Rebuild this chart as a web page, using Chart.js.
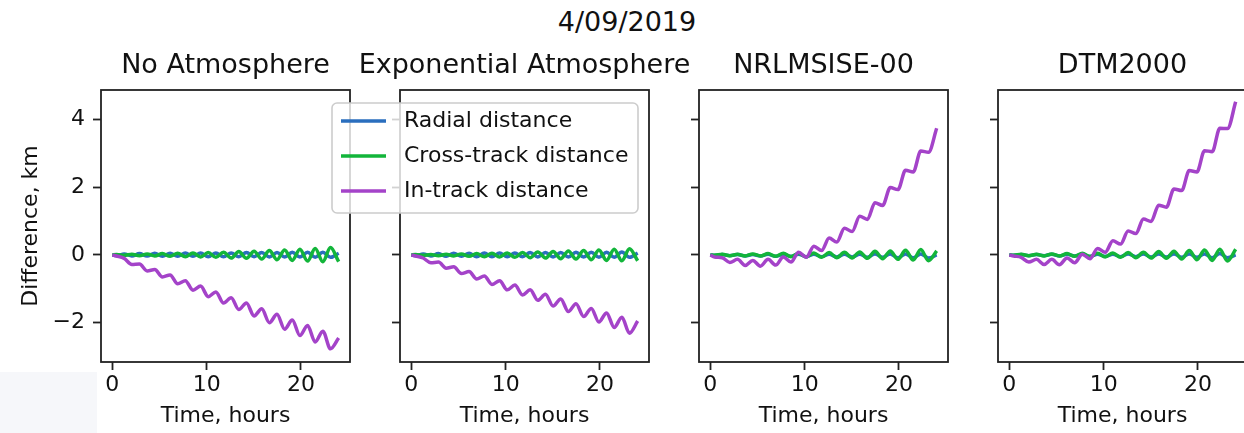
<!DOCTYPE html>
<html>
<head>
<meta charset="utf-8">
<script src="https://cdn.jsdelivr.net/npm/chart.js@4.4.0/dist/chart.umd.min.js"></script>
<style>
html, body { margin: 0; padding: 0; background: #fff; overflow: hidden; }
#wrap { position: relative; width: 1244px; height: 433px; overflow: hidden; }
#wrap canvas { position: absolute; left: 0; top: 0; }
#suptitle { position: absolute; left: 0; width: 1254px; top: 6px; line-height: 32px; text-align: center;
            font-family: "DejaVu Sans"; font-size: 27px; color: #111; }
#corner { position: absolute; left: 0; top: 372px; width: 97px; height: 61px; background: #f6f7fa; }
</style>
</head>
<body>
<div id="wrap">
  <div id="corner"></div>
  <div id="suptitle">4/09/2019</div>
  <canvas id="panel0" width="1250" height="433"></canvas>
  <canvas id="panel1" width="1250" height="433"></canvas>
  <canvas id="panel2" width="1250" height="433"></canvas>
  <canvas id="panel3" width="1250" height="433"></canvas>
</div>
<script>
// time axis, hours
const hours = [0, 0.45, 1.26, 2.07, 2.88, 3.69, 4.5, 5.31, 6.12, 6.93, 7.74, 8.55, 9.36, 10.17, 10.98, 11.79,
               12.6, 13.41, 14.22, 15.03, 15.84, 16.65, 17.46, 18.27, 19.08, 19.89, 20.7, 21.51, 22.32, 23.13, 24];

const panelTitles = ['No Atmosphere', 'Exponential Atmosphere', 'NRLMSISE-00', 'DTM2000'];
const seriesNames = ['Radial distance', 'Cross-track distance', 'In-track distance'];
const xTicks = [0, 10, 20];
const yTicks = [-2, 0, 2, 4];

// No Atmosphere
const radialNoAtm = [0, -0.02, 0.03, -0.03, 0.04, -0.03, 0.05, -0.04, 0.05, -0.04, 0.06, -0.04, 0.06, -0.05, 0.06, -0.05,
                     0.06, -0.05, 0.07, -0.05, 0.07, -0.06, 0.07, -0.06, 0.08, -0.06, 0.08, -0.07, 0.08, -0.07, 0.05];
const crossNoAtm = [0, 0.01, -0.01, 0.02, -0.02, 0.03, -0.03, 0.04, -0.04, 0.05, -0.05, 0.06, -0.06, 0.07, -0.07, 0.08,
                    -0.09, 0.10, -0.10, 0.11, -0.12, 0.13, -0.14, 0.15, -0.16, 0.17, -0.18, 0.19, -0.20, 0.22, -0.20];
const inTrackNoAtm = [0, -0.03, -0.10, -0.28, -0.27, -0.47, -0.43, -0.65, -0.59, -0.85, -0.76, -1.04, -0.92, -1.23, -1.09, -1.42,
                      -1.26, -1.61, -1.42, -1.80, -1.59, -2.00, -1.75, -2.19, -1.92, -2.38, -2.08, -2.57, -2.25, -2.77, -2.45];

// Exponential Atmosphere
const radialExp = [0, -0.02, 0.03, -0.03, 0.04, -0.04, 0.05, -0.04, 0.05, -0.05, 0.06, -0.05, 0.06, -0.05, 0.06, -0.05,
                   0.07, -0.06, 0.07, -0.06, 0.07, -0.06, 0.08, -0.06, 0.08, -0.07, 0.08, -0.07, 0.09, -0.07, 0.06];
const crossExp = [0, 0.01, -0.01, 0.01, -0.02, 0.02, -0.03, 0.03, -0.04, 0.04, -0.05, 0.05, -0.06, 0.06, -0.07, 0.07,
                  -0.08, 0.09, -0.09, 0.10, -0.11, 0.12, -0.12, 0.13, -0.14, 0.15, -0.16, 0.17, -0.17, 0.18, -0.17];
const inTrackExp = [0, -0.03, -0.09, -0.23, -0.21, -0.39, -0.35, -0.55, -0.49, -0.71, -0.62, -0.87, -0.76, -1.03, -0.89, -1.18,
                    -1.03, -1.34, -1.16, -1.51, -1.30, -1.67, -1.44, -1.82, -1.58, -1.98, -1.71, -2.14, -1.84, -2.31, -1.95];

// NRLMSISE-00
const radialMsis = [0, -0.01, 0.01, -0.02, 0.01, -0.03, 0.01, -0.03, 0.02, -0.04, 0.02, -0.04, 0.02, -0.05, 0.02, -0.05,
                    0.02, -0.06, 0.02, -0.06, 0.02, -0.07, 0.03, -0.07, 0.03, -0.08, 0.03, -0.08, 0.03, -0.09, 0.00];
const crossMsis = [0, -0.01, 0.02, -0.02, 0.02, -0.03, 0.03, -0.03, 0.04, -0.04, 0.05, -0.05, 0.05, -0.06, 0.06, -0.07,
                   0.07, -0.08, 0.08, -0.09, 0.09, -0.10, 0.11, -0.11, 0.12, -0.13, 0.14, -0.15, 0.16, -0.17, 0.12];
const inTrackMsis = [0, -0.06, -0.08, -0.22, -0.13, -0.31, -0.16, -0.33, -0.13, -0.30, -0.06, -0.21, 0.08, -0.07, 0.26, 0.13,
                     0.50, 0.38, 0.79, 0.69, 1.14, 1.05, 1.54, 1.46, 1.99, 1.93, 2.50, 2.45, 3.07, 3.03, 3.74];

// DTM2000
const radialDtm = [0, -0.01, 0.01, -0.02, 0.01, -0.02, 0.02, -0.03, 0.02, -0.03, 0.02, -0.04, 0.02, -0.04, 0.02, -0.05,
                   0.03, -0.05, 0.03, -0.06, 0.03, -0.06, 0.03, -0.07, 0.03, -0.07, 0.03, -0.08, 0.04, -0.08, 0.00];
const crossDtm = [0, -0.01, 0.02, -0.02, 0.02, -0.03, 0.03, -0.03, 0.04, -0.04, 0.05, -0.05, 0.05, -0.06, 0.06, -0.07,
                  0.07, -0.08, 0.08, -0.09, 0.10, -0.10, 0.11, -0.12, 0.13, -0.14, 0.15, -0.16, 0.17, -0.18, 0.17];
const inTrackDtm = [0, -0.03, -0.07, -0.21, -0.13, -0.28, -0.13, -0.29, -0.09, -0.23, 0.02, -0.11, 0.19, 0.08, 0.42, 0.32,
                    0.71, 0.63, 1.06, 0.99, 1.47, 1.41, 1.95, 1.90, 2.49, 2.45, 3.08, 3.05, 3.74, 3.73, 4.52];

const radialAll = [radialNoAtm, radialExp, radialMsis, radialDtm];
const crossAll = [crossNoAtm, crossExp, crossMsis, crossDtm];
const inTrackAll = [inTrackNoAtm, inTrackExp, inTrackMsis, inTrackDtm];

const lineColors = ['#2a6ebe', '#12b53a', '#a443c9'];

// layout of the four axes (px)
var FONT = 'DejaVu Sans';
var CANVAS_W = 1250;
var panelLeft = [101, 400, 699, 998];
var panelWidth = 249;

Chart.defaults.font.family = FONT;

function fmtTick(v) {
    return v < 0 ? '\u2212' + Math.abs(v) : String(v);
}

// legend drawn over panels 1/2 like matplotlib
function drawLegend(chart) {
    var ctx = chart.ctx;
    var x = 332, y = 103, w = 306, h = 110, r = 5;
    ctx.save();
    ctx.beginPath();
    ctx.moveTo(x + r, y);
    ctx.arcTo(x + w, y, x + w, y + h, r);
    ctx.arcTo(x + w, y + h, x, y + h, r);
    ctx.arcTo(x, y + h, x, y, r);
    ctx.arcTo(x, y, x + w, y, r);
    ctx.closePath();
    ctx.fillStyle = 'rgba(255,255,255,0.8)';
    ctx.fill();
    ctx.lineWidth = 1.6;
    ctx.strokeStyle = '#cccccc';
    ctx.stroke();
    // entries in draw order: radial, cross, in-track
    var items = chart.data.datasets.slice().sort(function(a, b) { return b.order - a.order; });
    items.forEach(function(ds, k) {
        var ry = 121 + k * 35;
        ctx.beginPath();
        ctx.moveTo(341, ry);
        ctx.lineTo(386, ry);
        ctx.lineWidth = 3.5;
        ctx.strokeStyle = ds.borderColor;
        ctx.stroke();
        ctx.fillStyle = '#111';
        ctx.font = '22px "' + FONT + '"';
        ctx.textBaseline = 'middle';
        ctx.textAlign = 'left';
        ctx.fillText(ds.label, 404, ry);
    });
    ctx.restore();
}

// box around each axes, axes title, legend
var framePlugin = {
    id: 'frame',
    afterDraw: function(chart) {
        var a = chart.chartArea;
        var ctx = chart.ctx;
        ctx.save();
        ctx.lineWidth = 1.8;
        ctx.strokeStyle = '#222';
        ctx.strokeRect(a.left, a.top, a.right - a.left, a.bottom - a.top);
        ctx.fillStyle = '#111';
        ctx.font = '27px "' + FONT + '"';
        ctx.textAlign = 'center';
        ctx.textBaseline = 'middle';
        ctx.fillText(chart.options.panelTitle, (a.left + a.right) / 2, 66);
        ctx.restore();
        if (chart.options.showLegend) drawLegend(chart);
    }
};

function toPoints(vals) {
    return hours.map(function(h, j) { return {x: h, y: vals[j]}; });
}

function makePanel(i) {
    var yw = i === 0 ? 101 : 8;
    var left = panelLeft[i];
    var cfg = {
        type: 'line',
        data: {
            datasets: [{
                label: seriesNames[0], data: toPoints(radialAll[i]), borderColor: lineColors[0], order: 3
            }, {
                label: seriesNames[1], data: toPoints(crossAll[i]), borderColor: lineColors[1], order: 2
            }, {
                label: seriesNames[2], data: toPoints(inTrackAll[i]), borderColor: lineColors[2], order: 1
            }]
        },
        options: {
            responsive: false,
            animation: false,
            showLegend: i === 1,
            panelTitle: panelTitles[i],
            layout: { padding: { left: left - yw, right: CANVAS_W - left - panelWidth, top: 90, bottom: 0 } },
            elements: {
                point: { radius: 0 },
                line: { borderWidth: 3.5, fill: false, cubicInterpolationMode: 'monotone' }
            },
            plugins: {
                legend: { display: false },
                tooltip: { enabled: false },
                title: { display: false }
            },
            scales: {
                x: {
                    type: 'linear',
                    min: -1.2,
                    max: 25.2,
                    afterBuildTicks: function(s) { s.ticks = xTicks.map(function(v) { return {value: v}; }); },
                    afterFit: function(s) { s.height = 71; },
                    border: { display: false },
                    grid: { drawOnChartArea: false, drawTicks: true, tickLength: 8, tickWidth: 1.8, tickColor: '#222' },
                    ticks: { padding: 2, color: '#111', font: { size: 22 }, maxRotation: 0, callback: fmtTick },
                    title: { display: true, text: 'Time, hours', color: '#111', font: { size: 22 }, padding: { top: 0, bottom: 4 } }
                },
                y: {
                    min: -3.16,
                    max: 4.87,
                    afterBuildTicks: function(s) { s.ticks = yTicks.map(function(v) { return {value: v}; }); },
                    afterFit: function(s) { s.width = yw; },
                    border: { display: false },
                    grid: { drawOnChartArea: false, drawTicks: true, tickLength: 8, tickWidth: 1.8, tickColor: '#222' },
                    ticks: { display: i === 0, padding: 8, color: '#111', font: { size: 22 }, callback: fmtTick },
                    title: { display: i === 0, text: 'Difference, km', color: '#111', font: { size: 22 }, padding: { top: 18.5, bottom: 0 } }
                }
            }
        },
        plugins: [framePlugin]
    };
    return new Chart(document.getElementById('panel' + i), cfg);
}

var charts = [];
for (var i = 0; i < 4; i++) charts.push(makePanel(i));
</script>
</body>
</html>
